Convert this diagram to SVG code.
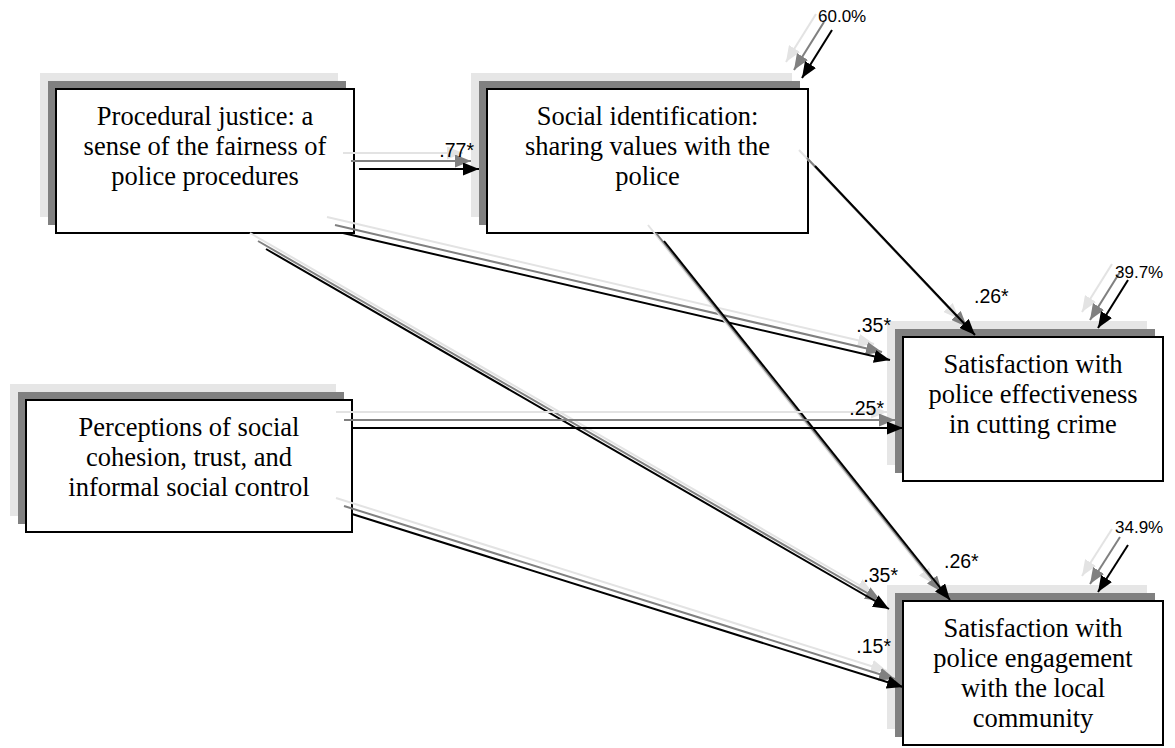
<svg xmlns="http://www.w3.org/2000/svg" width="1175" height="748" viewBox="0 0 1175 748">
<style>
.sl{fill:#e6e6e6}
.sd{fill:#808080}
.bx{fill:#fff;stroke:#000;stroke-width:2}
.t{font-family:"Liberation Serif","Times New Roman",serif;font-size:26.5px;fill:#000;text-anchor:middle}
.lb{font-family:"Liberation Sans",Arial,sans-serif;font-size:19.5px;fill:#000}
.pc{font-family:"Liberation Sans",Arial,sans-serif;font-size:17px;fill:#000}
.l{stroke:#e3e3e3;stroke-width:2;fill:none;marker-end:url(#hl)}
.g{stroke:#808080;stroke-width:2;fill:none;marker-end:url(#hg)}
.k{stroke:#000;stroke-width:2;fill:none;marker-end:url(#hk)}
</style>
<defs>
<marker id="hk" markerUnits="userSpaceOnUse" markerWidth="16" markerHeight="13" refX="16" refY="6.5" orient="auto" viewBox="0 0 16 13"><path d="M0,0 L16,6.5 L0,13 z" fill="#000"/></marker>
<marker id="hg" markerUnits="userSpaceOnUse" markerWidth="16" markerHeight="13" refX="16" refY="6.5" orient="auto" viewBox="0 0 16 13"><path d="M0,0 L16,6.5 L0,13 z" fill="#808080"/></marker>
<marker id="hl" markerUnits="userSpaceOnUse" markerWidth="16" markerHeight="13" refX="16" refY="6.5" orient="auto" viewBox="0 0 16 13"><path d="M0,0 L16,6.5 L0,13 z" fill="#e3e3e3"/></marker>
</defs>
<rect width="1175" height="748" fill="#fff"/>

<g id="node-procedural">
<rect class="sl" x="40" y="73" width="298" height="144"/>
<rect class="sd" x="48" y="81" width="298" height="144"/>
<rect class="bx" x="56" y="89" width="298" height="144"/>
<text class="t" x="205" y="125">Procedural justice: a</text>
<text class="t" x="205" y="155">sense of the fairness of</text>
<text class="t" x="205" y="185">police procedures</text>
</g>

<g id="node-social-id">
<rect class="sl" x="471" y="73" width="321" height="144"/>
<rect class="sd" x="479" y="81" width="321" height="144"/>
<rect class="bx" x="487" y="89" width="321" height="144"/>
<text class="t" x="647.5" y="125">Social identification:</text>
<text class="t" x="647.5" y="155">sharing values with the</text>
<text class="t" x="647.5" y="185">police</text>
</g>

<g id="node-perceptions">
<rect class="sl" x="10" y="384" width="326" height="132"/>
<rect class="sd" x="18" y="392" width="326" height="132"/>
<rect class="bx" x="26" y="400" width="326" height="132"/>
<text class="t" x="189" y="436">Perceptions of social</text>
<text class="t" x="189" y="466">cohesion, trust, and</text>
<text class="t" x="189" y="496">informal social control</text>
</g>

<g id="node-effectiveness">
<rect class="sl" x="887" y="321" width="260" height="144"/>
<rect class="sd" x="895" y="329" width="260" height="144"/>
<rect class="bx" x="903" y="337" width="260" height="144"/>
<text class="t" x="1033" y="373">Satisfaction with</text>
<text class="t" x="1033" y="403">police effectiveness</text>
<text class="t" x="1033" y="433">in cutting crime</text>
</g>

<g id="node-engagement">
<rect class="sl" x="887" y="585" width="260" height="144"/>
<rect class="sd" x="895" y="593" width="260" height="144"/>
<rect class="bx" x="903" y="601" width="260" height="144"/>
<text class="t" x="1033" y="637">Satisfaction with</text>
<text class="t" x="1033" y="667">police engagement</text>
<text class="t" x="1033" y="697">with the local</text>
<text class="t" x="1033" y="727">community</text>
</g>

<g id="connectors">
<line class="l" x1="343" y1="153" x2="463" y2="153"/>
<line class="g" x1="351" y1="161" x2="471" y2="161"/>
<line class="k" x1="359" y1="169" x2="479" y2="169"/>

<line class="l" x1="327" y1="217" x2="874" y2="344"/>
<line class="g" x1="335" y1="225" x2="882" y2="352"/>
<line class="k" x1="343" y1="233" x2="890" y2="360"/>

<line class="l" x1="250" y1="233" x2="873" y2="593"/>
<line class="g" x1="258" y1="241" x2="881" y2="601"/>
<line class="k" x1="266" y1="249" x2="889" y2="609"/>

<line class="l" x1="799" y1="150" x2="959" y2="319"/>
<line class="g" x1="807" y1="158" x2="967" y2="327"/>
<line class="k" x1="815" y1="166" x2="975" y2="335"/>

<line class="l" x1="648" y1="225" x2="934" y2="584"/>
<line class="g" x1="656" y1="233" x2="942" y2="592"/>
<line class="k" x1="664" y1="241" x2="950" y2="600"/>

<line class="l" x1="336" y1="412" x2="887" y2="412"/>
<line class="g" x1="344" y1="420" x2="895" y2="420"/>
<line class="k" x1="352" y1="428" x2="903" y2="428"/>

<line class="l" x1="336" y1="498" x2="887" y2="671"/>
<line class="g" x1="344" y1="506" x2="895" y2="679"/>
<line class="k" x1="352" y1="514" x2="903" y2="687"/>

<line class="l" x1="816" y1="14" x2="786" y2="62"/>
<line class="g" x1="824" y1="22" x2="794" y2="70"/>
<line class="k" x1="832" y1="30" x2="802" y2="78"/>

<line class="l" x1="1112" y1="264" x2="1082" y2="312"/>
<line class="g" x1="1120" y1="272" x2="1090" y2="320"/>
<line class="k" x1="1128" y1="280" x2="1098" y2="328"/>

<line class="l" x1="1112" y1="529" x2="1082" y2="576"/>
<line class="g" x1="1120" y1="537" x2="1090" y2="584"/>
<line class="k" x1="1128" y1="545" x2="1098" y2="592"/>
</g>

<g id="labels">
<text class="lb" x="474" y="157" text-anchor="end">.77*</text>
<text class="lb" x="891" y="332" text-anchor="end">.35*</text>
<text class="lb" x="884" y="415" text-anchor="end">.25*</text>
<text class="lb" x="974" y="303">.26*</text>
<text class="lb" x="898" y="582" text-anchor="end">.35*</text>
<text class="lb" x="944" y="568">.26*</text>
<text class="lb" x="891" y="653" text-anchor="end">.15*</text>
<text class="pc" x="818" y="22">60.0%</text>
<text class="pc" x="1115" y="278">39.7%</text>
<text class="pc" x="1115" y="533">34.9%</text>
</g>
</svg>
